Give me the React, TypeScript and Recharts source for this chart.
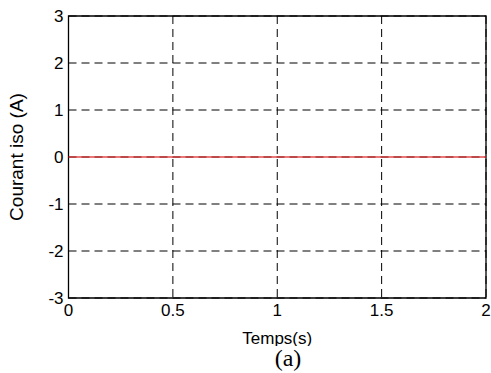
import { LineChart, Line, XAxis, YAxis, CartesianGrid, ReferenceArea } from "recharts";

// time samples (s) and measured current iso (A)
const temps = [0, 0.25, 0.5, 0.75, 1, 1.25, 1.5, 1.75, 2];
const courantIso = [0, 0, 0, 0, 0, 0, 0, 0, 0];

const xTicks = [0, 0.5, 1, 1.5, 2];
const yTicks = [-3, -2, -1, 0, 1, 2, 3];

const data = temps.map((t, i) => ({ t, iso: courantIso[i] }));

const FONT = "'Liberation Sans', Arial, sans-serif";
const tickStyle = { fontFamily: FONT, fontSize: 17, fill: "#000" };

export default function App() {
  return (
    <div style={{ position: "absolute", left: 0, top: 0, width: 491, height: 373, background: "#fff" }}>
      {/* figure is cropped just under the x label, caption sits below */}
      <div style={{ width: 491, height: 346, overflow: "hidden" }}>
        <LineChart width={491} height={346} data={data} margin={{ top: 16, right: 5, bottom: 0, left: 0 }}>
          <CartesianGrid stroke="#000" strokeDasharray="8 5" strokeWidth={1} />
          <XAxis
            dataKey="t"
            type="number"
            domain={[0, 2]}
            ticks={xTicks}
            height={48}
            tickSize={0}
            tickMargin={6}
            axisLine={false}
            tick={tickStyle}
            label={{ value: "Temps(s)", position: "insideBottom", offset: 2.5, style: { fontFamily: FONT, fontSize: 17, fill: "#000" } }}
          />
          <YAxis
            type="number"
            domain={[-3, 3]}
            ticks={yTicks}
            width={68.5}
            tickSize={0}
            tickMargin={5}
            axisLine={false}
            tick={tickStyle}
            label={{ value: "Courant iso (A)", angle: -90, position: "insideLeft", offset: 16, style: { fontFamily: FONT, fontSize: 19, fill: "#000", textAnchor: "middle" } }}
          />
          <ReferenceArea x1={0} x2={2} y1={-3} y2={3} fill="none" fillOpacity={0} stroke="#000" strokeWidth={1.3} />
          <Line
            dataKey="iso"
            type="linear"
            stroke="#dd2a2a"
            strokeWidth={1.6}
            strokeOpacity={0.85}
            dot={false}
            isAnimationActive={false}
          />
        </LineChart>
      </div>
      <div
        style={{
          position: "absolute",
          left: 0,
          top: 347,
          width: 576,
          textAlign: "center",
          fontFamily: "'Liberation Serif', 'Times New Roman', serif",
          fontSize: 24,
          lineHeight: "22px",
          color: "#000",
        }}
      >
        (a)
      </div>
    </div>
  );
}
